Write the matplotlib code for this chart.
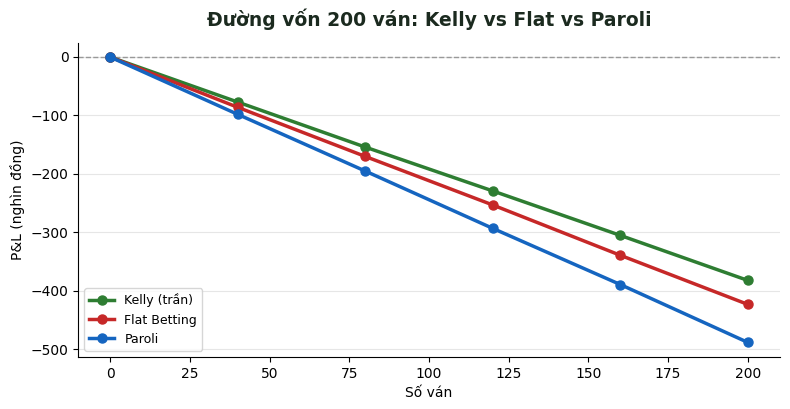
import matplotlib.pyplot as plt

rounds = [0, 40, 80, 120, 160, 200]
kelly = [0, -77, -154, -229, -305, -382]
flat = [0, -86, -170, -253, -339, -423]
paroli = [0, -98, -195, -293, -389, -488]

fig, ax = plt.subplots(figsize=(7.9, 4.09), dpi=100)

ax.axhline(0, color="#999999", linestyle="--", linewidth=1, zorder=1)
ax.plot(rounds, kelly, "-o", color="#2e7d32", linewidth=2.5, markersize=6.5, label="Kelly (trần)")
ax.plot(rounds, flat, "-o", color="#c62828", linewidth=2.5, markersize=6.5, label="Flat Betting")
ax.plot(rounds, paroli, "-o", color="#1565c0", linewidth=2.5, markersize=6.5, label="Paroli")

ax.set_title("Đường vốn 200 ván: Kelly vs Flat vs Paroli", fontsize=13.5,
             fontweight="bold", color="#1b2a1f", pad=12)
ax.set_xlabel("Số ván", fontsize=10)
ax.set_ylabel("P&L (nghìn đồng)", fontsize=10)
ax.set_xlim(-10, 210)
ax.set_ylim(-513, 24)
ax.yaxis.grid(True, color="#e6e6e6", linewidth=0.8)
ax.set_axisbelow(True)
ax.spines["top"].set_visible(False)
ax.spines["right"].set_visible(False)
ax.legend(loc="lower left", fontsize=9)

fig.subplots_adjust(left=0.099, right=0.987, top=0.895, bottom=0.127)
plt.savefig("out.png")
